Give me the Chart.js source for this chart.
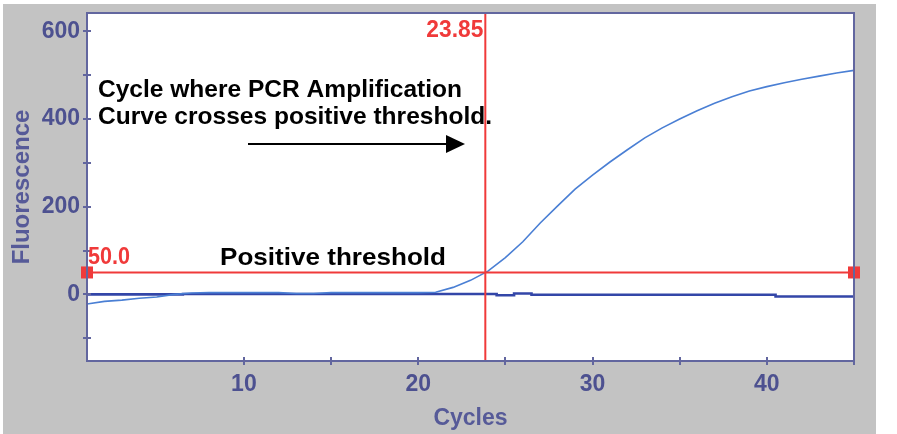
<!DOCTYPE html>
<html>
<head>
<meta charset="utf-8">
<title>PCR amplification</title>
<script src="https://cdn.jsdelivr.net/npm/chart.js@4.4.1/dist/chart.umd.min.js"></script>
<style>
  html, body { margin: 0; padding: 0; background: #fff; }
  #wrap { position: relative; width: 897px; height: 434px; }
</style>
</head>
<body>
<div id="wrap"><canvas id="chart"></canvas></div>
<script>
// cycle numbers and fluorescence readings
const cycles = [1, 2, 3, 4, 5, 6, 7, 8, 9, 10, 11, 12, 13, 14, 15, 16, 17, 18, 19, 20,
  21, 22, 23, 24, 25, 26, 27, 28, 29, 30, 31, 32, 33, 34, 35, 36, 37, 38, 39, 40,
  41, 42, 43, 44, 45];
const sampleFluor = [-22, -16, -13, -9, -6, 0, 3, 4, 4, 4, 4, 4, 2, 2, 4, 4, 4, 4, 4, 4,
  5, 16, 32, 53, 84, 120, 163, 202, 240, 272, 302, 330, 357, 380, 400, 419, 436, 451, 464, 474,
  483, 491, 498, 505, 511];
const controlFluor = [0, 0, 0, 0, 0, 0, 1, 1, 1, 1, 1, 1, 1, 1, 1, 1, 1, 1, 1, 1,
  1, 1, 1, 1, -2, 2, -1, -1, -1, -1, -1, -1, -1, -1, -1, -1, -1, -1, -1, -1,
  -5, -5, -5, -5, -5];

const threshold = 50;
const ctCycle = 23.85;

const xTicks = [10, 15, 20, 25, 30, 35, 40, 45];
const xLabels = [10, 20, 30, 40];
const yTicks = [-100, 0, 100, 200, 300, 400, 500, 600];
const yLabels = [0, 200, 400, 600];
const yMin = -152, yMax = 642;

const slate = "#62669f";
const labelBlue = "#4d5190";
const red = "#f03a3a";
const FONT = "'Liberation Sans', Arial, sans-serif";

Chart.defaults.font.family = FONT;

const pts = (ys) => cycles.map((c, i) => ({ x: c, y: ys[i] }));

// text squeezed/stretched horizontally to a given width (reference is a bit wide)
function wideText(ctx, text, x, y, width, align) {
  const w = ctx.measureText(text).width;
  const k = width / w;
  ctx.save();
  ctx.textAlign = "left";
  const x0 = align === "right" ? x - width : x;
  ctx.translate(x0, y);
  ctx.scale(k, 1);
  ctx.fillText(text, 0, 0);
  ctx.restore();
}

// backgrounds, frame, ticks crossing the axes, annotations
const decor = {
  id: "decor",
  beforeDraw(chart) {
    const { ctx, chartArea: a } = chart;
    ctx.save();
    ctx.fillStyle = "#fff";
    ctx.fillRect(0, 0, chart.width, chart.height);
    ctx.fillStyle = "#c3c3c3";
    ctx.fillRect(3, 4, 873, chart.height - 4);
    ctx.fillStyle = "#fff";
    ctx.fillRect(a.left, a.top, a.right - a.left, a.bottom - a.top);
    ctx.restore();
  },
  afterDraw(chart) {
    const { ctx, chartArea: a, scales } = chart;
    ctx.save();
    ctx.strokeStyle = slate;
    ctx.lineWidth = 2;
    ctx.strokeRect(a.left, a.top, a.right - a.left, a.bottom - a.top);
    ctx.beginPath();
    scales.x.ticks.forEach(t => {
      const px = Math.round(scales.x.getPixelForValue(t.value));
      ctx.moveTo(px, a.bottom - 4);
      ctx.lineTo(px, a.bottom + 4);
    });
    scales.y.ticks.forEach(t => {
      const py = Math.round(scales.y.getPixelForValue(t.value));
      ctx.moveTo(a.left - 4, py);
      ctx.lineTo(a.left + 4, py);
    });
    ctx.stroke();

    // red value labels
    ctx.fillStyle = red;
    ctx.font = "bold 23px " + FONT;
    ctx.textBaseline = "alphabetic";
    wideText(ctx, ctCycle.toFixed(2), scales.x.getPixelForValue(ctCycle) - 2, 37, 57, "right");
    wideText(ctx, threshold.toFixed(1), a.left + 1, scales.y.getPixelForValue(threshold) - 8, 42);

    // black annotations
    ctx.fillStyle = "#000";
    ctx.font = "bold 24px " + FONT;
    wideText(ctx, "Cycle where PCR Amplification", 98, 97, 364);
    wideText(ctx, "Curve crosses positive threshold.", 98, 124, 394);
    wideText(ctx, "Positive threshold", 220, 265, 226);

    ctx.strokeStyle = "#000";
    ctx.lineWidth = 2;
    ctx.beginPath();
    ctx.moveTo(248, 144);
    ctx.lineTo(448, 144);
    ctx.stroke();
    ctx.beginPath();
    ctx.moveTo(446, 135);
    ctx.lineTo(465, 144);
    ctx.lineTo(446, 153);
    ctx.closePath();
    ctx.fill();
    ctx.restore();
  }
};

new Chart(document.getElementById("chart"), {
  type: "line",
  data: {
    datasets: [
      {
        data: [{ x: ctCycle, y: yMin }, { x: ctCycle, y: yMax }],
        borderColor: red,
        borderWidth: 2,
        pointRadius: 0,
        order: 0
      },
      {
        data: [{ x: cycles[0], y: threshold }, { x: cycles[cycles.length - 1], y: threshold }],
        borderColor: red,
        borderWidth: 2,
        pointStyle: "rect",
        pointRadius: 8.5,
        pointBackgroundColor: red,
        pointBorderWidth: 0,
        clip: false,
        order: 0
      },
      {
        data: pts(sampleFluor),
        borderColor: "#4a7fd4",
        borderWidth: 1.6,
        pointRadius: 0,
        tension: 0,
        order: 1
      },
      {
        data: pts(controlFluor),
        borderColor: "#3346a8",
        borderWidth: 2.6,
        pointRadius: 0,
        stepped: "middle",
        order: 2
      }
    ]
  },
  options: {
    responsive: true,
    maintainAspectRatio: false,
    animation: false,
    events: [],
    layout: { padding: { top: 13, right: 43, left: 0, bottom: 0 } },
    plugins: { legend: { display: false }, tooltip: { enabled: false } },
    scales: {
      x: {
        type: "linear",
        min: cycles[0],
        max: cycles[cycles.length - 1],
        afterFit(s) { s.height = 73; s.paddingLeft = 0; s.paddingRight = 0; },
        afterBuildTicks(s) { s.ticks = xTicks.map(v => ({ value: v })); },
        grid: { display: false, drawTicks: false },
        border: { display: false },
        ticks: {
          autoSkip: false,
          maxRotation: 0,
          padding: 10,
          color: labelBlue,
          font: { size: 23, weight: "bold" },
          callback: v => xLabels.includes(v) ? String(v) : ""
        },
        title: {
          display: true,
          text: "Cycles",
          color: "#565a98",
          font: { size: 23, weight: "bold" },
          padding: { top: 0, bottom: 2 }
        }
      },
      y: {
        min: yMin,
        max: yMax,
        afterFit(s) { s.width = 87; s.paddingTop = 0; s.paddingBottom = 0; },
        afterBuildTicks(s) { s.ticks = yTicks.map(v => ({ value: v })); },
        grid: { display: false, drawTicks: false },
        border: { display: false },
        ticks: {
          autoSkip: false,
          padding: 7,
          color: labelBlue,
          font: { size: 23, weight: "bold" },
          callback: v => yLabels.includes(v) ? String(v) : ""
        },
        title: {
          display: true,
          text: "Fluorescence",
          color: "#565a98",
          font: { size: 24, weight: "bold" },
          padding: { top: 8, bottom: 0 }
        }
      }
    }
  },
  plugins: [decor]
});
</script>
</body>
</html>
